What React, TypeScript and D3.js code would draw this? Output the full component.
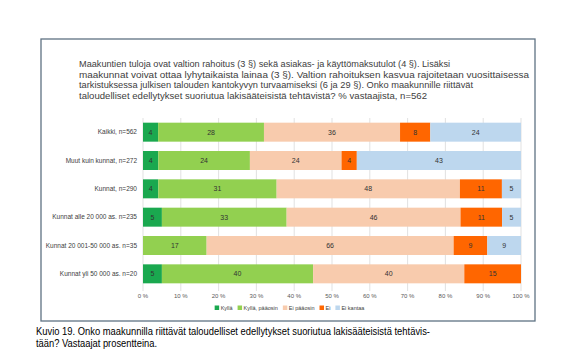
import React from "react";
import * as d3 from "d3";

const categories = [
  "Kaikki, n=562",
  "Muut kuin kunnat, n=272",
  "Kunnat, n=290",
  "Kunnat alle 20 000 as. n=235",
  "Kunnat 20 001-50 000 as. n=35",
  "Kunnat yli 50 000 as. n=20",
];
const seriesNames = ["Kyllä", "Kyllä, pääosin", "Ei pääosin", "Ei", "Ei kantaa"];
const kylla = [4, 4, 4, 5, 0, 5];
const kyllaPaaosin = [28, 24, 31, 33, 17, 40];
const eiPaaosin = [36, 24, 48, 46, 66, 40];
const ei = [8, 4, 11, 11, 9, 15];
const eiKantaa = [24, 43, 5, 5, 9, 0];
const seriesValues = [kylla, kyllaPaaosin, eiPaaosin, ei, eiKantaa];
const colors = ["#1aa84f", "#92d050", "#f8cbad", "#ff6600", "#bdd7ee"];
const ticks = [0, 10, 20, 30, 40, 50, 60, 70, 80, 90, 100];

const titleLines = [
  "Maakuntien tuloja ovat valtion rahoitus (3 §) sekä asiakas- ja käyttömaksutulot (4 §). Lisäksi",
  "maakunnat voivat ottaa lyhytaikaista lainaa (3 §). Valtion rahoituksen kasvua rajoitetaan vuosittaisessa",
  "tarkistuksessa julkisen talouden kantokyvyn turvaamiseksi (6 ja 29 §). Onko maakunnille riittävät",
  "taloudelliset edellytykset suoriutua lakisääteisistä tehtävistä? % vastaajista, n=562",
];
const titleWidths = [371, 450, 394, 348];
const captionLines = [
  "Kuvio 19. Onko maakunnilla riittävät taloudelliset edellytykset suoriutua lakisääteisistä tehtävis-",
  "tään? Vastaajat prosentteina.",
];
const captionWidths = [394, 121];

function measure(text: string, font: string): number {
  if (typeof document === "undefined") return text.length * 3;
  const c = document.createElement("canvas").getContext("2d");
  if (!c) return text.length * 3;
  c.font = font;
  return c.measureText(text).width;
}

export default function App() {
  const W = 582, H = 358;
  const x = d3.scaleLinear().domain([0, 100]).range([143, 521]);
  const y = d3.scaleBand<string>().domain(categories).range([118, 288]).paddingInner(0.33).paddingOuter(0.165);

  const rows = categories.map((c, i) => {
    const total = d3.sum(seriesValues, (s) => s[i]);
    let acc = 0;
    return seriesValues.map((s, k) => {
      const v = s[i];
      const x0 = (acc / total) * 100;
      acc += v;
      return { c, k, v, x0, x1: (acc / total) * 100 };
    });
  });

  const legendFont = "5.5px 'Liberation Sans', Arial, sans-serif";
  let lx = 0;
  const legendItems = seriesNames.map((n, k) => {
    const item = { n, k, x: lx };
    lx += 7 + measure(n, legendFont) + 4;
    return item;
  });
  const legendTotal = lx - 4;
  const legendStart = 290 - legendTotal / 2;

  return (
    <svg width={W} height={H} style={{ position: "absolute", left: 0, top: 0, background: "#fff" }}
      fontFamily="'Liberation Sans', Arial, sans-serif">
      <rect x={41} y={39} width={494} height={282} fill="#fff" stroke="#5f7283" strokeWidth={1.3} />
      {titleLines.map((t, i) => (
        <text key={i} x={79} y={67 + i * 10.5} fontSize={9} fill="#404040" textLength={titleWidths[i]} lengthAdjust="spacingAndGlyphs">{t}</text>
      ))}
      {ticks.map((t) => (
        <g key={t}>
          <line x1={x(t)} x2={x(t)} y1={118} y2={291} stroke="#d9d9d9" strokeWidth={0.8} />
          <text x={x(t)} y={298} fontSize={6} fill="#595959" textAnchor="middle">{t} %</text>
        </g>
      ))}
      {rows.map((segs, i) => (
        <g key={i}>
          <text x={137} y={(y(categories[i]) as number) + y.bandwidth() / 2 + 2.3} fontSize={6.5} fill="#404040" textAnchor="end">{categories[i]}</text>
          {segs.filter((s) => s.v > 0).map((s) => (
            <g key={s.k}>
              <rect x={x(s.x0)} y={y(s.c)} width={x(s.x1) - x(s.x0)} height={y.bandwidth()} fill={colors[s.k]} />
              <text x={(x(s.x0) + x(s.x1)) / 2} y={(y(s.c) as number) + y.bandwidth() / 2 + 2.5} fontSize={7} fill="#333" textAnchor="middle">{s.v}</text>
            </g>
          ))}
        </g>
      ))}
      {legendItems.map((it) => (
        <g key={it.k} transform={`translate(${legendStart + it.x},0)`}>
          <rect x={0} y={305.5} width={4.5} height={4.5} fill={colors[it.k]} />
          <text x={6} y={310} fontSize={5.5} fill="#404040">{it.n}</text>
        </g>
      ))}
      {captionLines.map((t, i) => (
        <text key={i} x={36} y={334.5 + i * 12.5} fontSize={10} fill="#000" textLength={captionWidths[i]} lengthAdjust="spacingAndGlyphs">{t}</text>
      ))}
    </svg>
  );
}
